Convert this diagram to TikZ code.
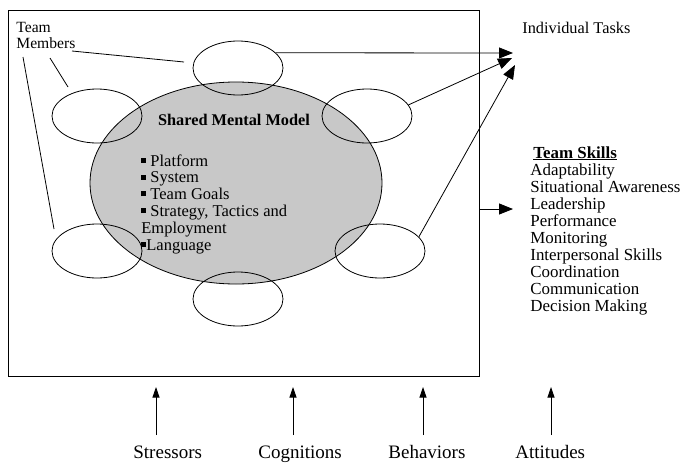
\documentclass[tikz,border=0pt]{standalone}
\usepackage{fontspec}
\setmainfont{Liberation Serif}
\usetikzlibrary{shapes.geometric,arrows.meta}
\definecolor{smmgray}{RGB}{200,200,200}
\newcommand\sqbul{\rule[0.2em]{0.3em}{0.3em}}
\begin{document}
\begin{tikzpicture}[x=1pt,y=-1pt, line width=0.8pt,
  font=\fontsize{16.3}{17}\selectfont,
  member/.style={ellipse, draw, minimum width=90pt, minimum height=54pt, inner sep=0pt},
  bigarrow/.style={-{Triangle[length=14pt,width=11pt]}},
  smallarrow/.style={-{Triangle[length=10.5pt,width=7pt]}},
  txt/.style={inner sep=0pt, anchor=base west},
  bottomtxt/.style={inner sep=0pt, anchor=base west, font=\fontsize{19}{20}\selectfont}]
\useasboundingbox (0,0) rectangle (682,463);
% frame
\node[draw, minimum width=471pt, minimum height=366pt, inner sep=0pt, anchor=north west] (frame) at (8,10) {};
% shared mental model
\node[ellipse, draw, fill=smmgray, minimum width=292pt, minimum height=202pt, inner sep=0pt] (smm) at (236,183) {};
\node[inner sep=0pt, anchor=base, font=\fontsize{16.3}{17}\selectfont\bfseries] (smmtitle) at (234,125) {Shared Mental Model};
\node[inner sep=0pt, anchor=north west, align=left, font=\fontsize{16.5}{16.8}\selectfont] (smmlist) at (141,154)
  {\sqbul{} Platform\\\sqbul{} System\\\sqbul{} Team Goals\\\sqbul{} Strategy, Tactics and\\Employment\\\sqbul Language};
% members
\node[member] (tm) at (238,68) {};
\node[member] (tl) at (97,116) {};
\node[member] (tr) at (367,116) {};
\node[member] (bl) at (97,251) {};
\node[member] (br) at (380,251) {};
\node[member] (bm) at (238,299) {};
% team members label
\node[inner sep=0pt, anchor=north west, align=left, font=\fontsize{15.6}{15.5}\selectfont] (tmlabel) at (16,22) {Team\\Members};
\coordinate (m1a) at (72,51);  \coordinate (m1b) at (184,62);
\coordinate (m2a) at (50,58);  \coordinate (m2b) at (68,87);
\coordinate (m3a) at (23,57);  \coordinate (m3b) at (54,229);
\draw (m1a) -- (m1b);
\draw (m2a) -- (m2b);
\draw (m3a) -- (m3b);
% individual tasks
\node[txt] (itlabel) at (522,33) {Individual Tasks};
\coordinate (it1) at (513,53);
\coordinate (it2) at (512,58);
\coordinate (it3) at (515,65);
\draw[bigarrow] (tm.22) -- (it1);
\draw[bigarrow] (tr.15) -- (it2);
\draw[bigarrow] (br.20) -- (it3);
% team skills
\node[inner sep=0pt, anchor=north west, align=left, font=\fontsize{16.9}{17}\selectfont] (skills) at (530,146)
  {\hspace{3pt}\underline{\textbf{Team Skills}}\\Adaptability\\Situational Awareness\\Leadership\\Performance\\Monitoring\\Interpersonal Skills\\Coordination\\Communication\\Decision Making};
\coordinate (tsa) at (479,209);
\coordinate (tsb) at (513,209);
\draw[bigarrow] (tsa) -- (tsb);
% bottom
\node[bottomtxt] (stress) at (133,458.5) {Stressors};
\node[bottomtxt] (cogn) at (258,458.5) {Cognitions};
\node[bottomtxt] (behav) at (388,458.5) {Behaviors};
\node[bottomtxt] (attit) at (515,458.5) {Attitudes};
\coordinate (b1a) at (156,435); \coordinate (b1b) at (156,387);
\coordinate (b2a) at (293,435); \coordinate (b2b) at (293,387);
\coordinate (b3a) at (423,435); \coordinate (b3b) at (423,387);
\coordinate (b4a) at (551,435); \coordinate (b4b) at (551,387);
\draw[smallarrow] (b1a) -- (b1b);
\draw[smallarrow] (b2a) -- (b2b);
\draw[smallarrow] (b3a) -- (b3b);
\draw[smallarrow] (b4a) -- (b4b);
\end{tikzpicture}
\end{document}
